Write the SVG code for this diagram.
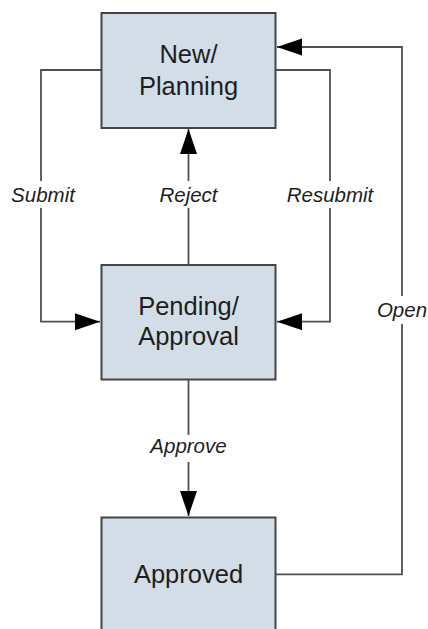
<svg xmlns="http://www.w3.org/2000/svg" width="428" height="629" viewBox="0 0 428 629">
<style>
.box{fill:#d3dde7;stroke:#454545;stroke-width:2}
.nt{font-family:"Liberation Sans",Arial,sans-serif;font-size:25.5px;fill:#1e1e1e;text-anchor:middle}
.ln{fill:none;stroke:#505050;stroke-width:1.8}
.lb{font-family:"Liberation Sans",Arial,sans-serif;font-size:20.5px;font-style:italic;fill:#1e1e1e;text-anchor:middle}
.bg{fill:#ffffff}
</style>
<defs>
<marker id="ah" markerUnits="userSpaceOnUse" markerWidth="26" markerHeight="18" refX="25" refY="8.5" orient="auto">
<path d="M0,0 L25,8.5 L0,17 Z" fill="#000"/>
</marker>
</defs>
<rect width="428" height="629" fill="#fff"/>
<g id="connectors">
<path class="ln" d="M101,70 H41 V321.7 H100" marker-end="url(#ah)"/>
<path class="ln" d="M188.5,265 V129" marker-end="url(#ah)"/>
<path class="ln" d="M276,70 H330 V321.7 H277" marker-end="url(#ah)"/>
<path class="ln" d="M276,574.3 H402 V47 H277" marker-end="url(#ah)"/>
<path class="ln" d="M188.5,380 V516" marker-end="url(#ah)"/>
<rect class="bg" x="8" y="181" width="68" height="27"/>
<text class="lb" x="43" y="202">Submit</text>
<rect class="bg" x="157" y="181" width="63" height="27"/>
<text class="lb" x="188.5" y="202">Reject</text>
<rect class="bg" x="284" y="181" width="92" height="27"/>
<text class="lb" x="330" y="202">Resubmit</text>
<rect class="bg" x="375" y="296" width="53" height="28"/>
<text class="lb" x="402" y="317">Open</text>
<rect class="bg" x="147" y="435" width="83" height="27"/>
<text class="lb" x="188.5" y="453">Approve</text>
</g>
<g id="new-planning">
<rect class="box" x="101.5" y="13" width="174" height="115"/>
<text class="nt" x="188.5" y="62.5">New/</text>
<text class="nt" x="188.5" y="94.5">Planning</text>
</g>
<g id="pending-approval">
<rect class="box" x="101.5" y="265" width="174" height="114.5"/>
<text class="nt" x="188.5" y="315">Pending/</text>
<text class="nt" x="188.5" y="345">Approval</text>
</g>
<g id="approved">
<rect class="box" x="101.5" y="517.5" width="174" height="130"/>
<text class="nt" x="188.5" y="582.5">Approved</text>
</g>
</svg>
